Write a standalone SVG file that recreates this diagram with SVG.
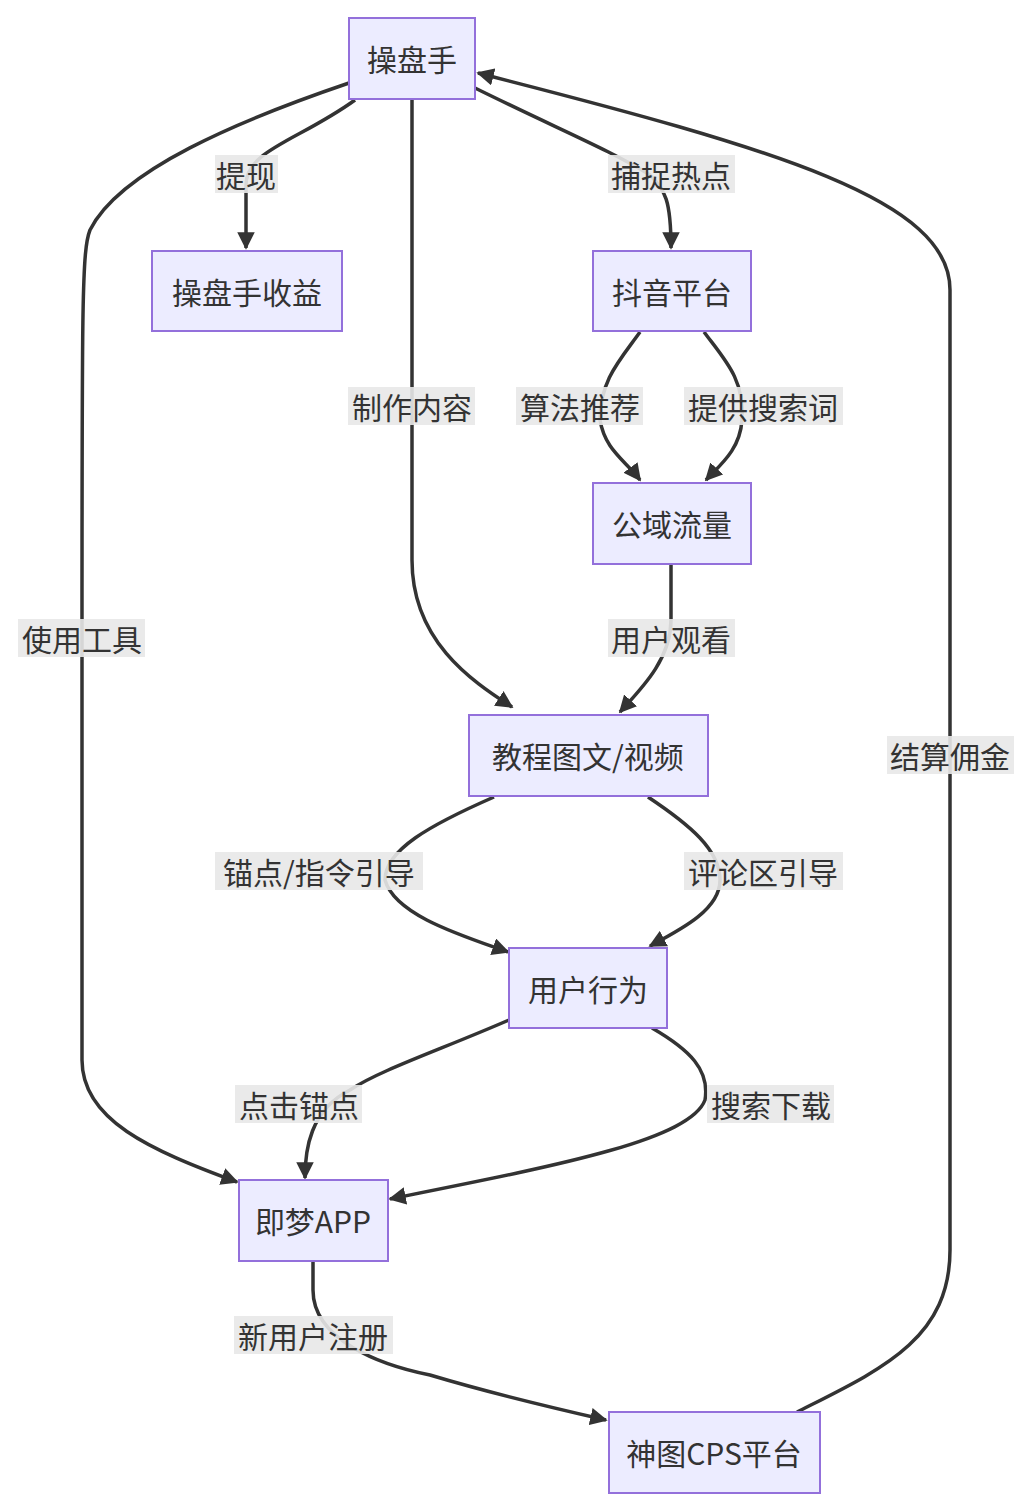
<svg xmlns="http://www.w3.org/2000/svg" width="1032" height="1510" viewBox="0 0 1032 1510">
<style>
.n rect{fill:#ECECFF;stroke:#9370DB;stroke-width:2}
text{font-family:"Noto Sans CJK SC","Liberation Sans",sans-serif;font-size:30px;fill:#333;text-anchor:middle;dominant-baseline:central}
.e path{fill:none;stroke:#333;stroke-width:3.5;marker-end:url(#a)}
.l rect{fill:#e8e8e8;opacity:0.9}
</style>
<defs><marker id="a" viewBox="0 0 10 10" refX="9" refY="5" markerWidth="5" markerHeight="5" orient="auto" markerUnits="strokeWidth"><path d="M0,0L10,5L0,10z" fill="#333"/></marker></defs>
<rect width="1032" height="1510" fill="#fff"/>
<g class="e">
<path d="M355,100 C300,140 246,150 246,185 L246,248"/>
<path d="M475,88 C560,130 610,150 650,175 C665,190 671,200 671,248"/>
<path d="M640,332 C620,360 600,380 600,420 C605,450 625,460 640,480"/>
<path d="M704,332 C725,360 745,380 742,420 C740,450 720,465 706,480"/>
<path d="M412,99 L412,560 C412,640 470,680 512,707"/>
<path d="M671,564 L671,620 C671,660 640,690 620,712"/>
<path d="M494,797 C430,825 385,850 385,880 C395,915 460,935 508,952"/>
<path d="M648,797 C690,825 720,850 720,880 C720,910 680,930 650,946"/>
<path d="M509,1020 C440,1050 380,1070 350,1090 C310,1110 305,1150 305,1178"/>
<path d="M652,1028 C690,1050 710,1070 705,1100 C690,1140 560,1165 390,1199"/>
<path d="M349,83 C240,120 120,170 90,230 C82,250 82,300 82,640 L82,1060 C82,1120 150,1150 237,1182"/>
<path d="M313,1261 L313,1290 C313,1340 380,1365 430,1375 C480,1390 540,1405 606,1420"/>
<path d="M797,1412 C880,1370 950,1340 950,1250 L950,290 C950,200 780,150 478,73"/>
</g>
<g class="l">
<rect x="215" y="155" width="63" height="38"/><text x="246" y="174">提现</text>
<rect x="608" y="155" width="127" height="38"/><text x="671" y="174">捕捉热点</text>
<rect x="516" y="387" width="127" height="38"/><text x="580" y="406">算法推荐</text>
<rect x="684" y="387" width="159" height="38"/><text x="763" y="406">提供搜索词</text>
<rect x="348" y="387" width="127" height="38"/><text x="412" y="406">制作内容</text>
<rect x="608" y="619" width="127" height="38"/><text x="671" y="638">用户观看</text>
<rect x="215" y="852" width="208" height="38"/><text x="319" y="871">锚点/指令引导</text>
<rect x="684" y="852" width="159" height="38"/><text x="763" y="871">评论区引导</text>
<rect x="235" y="1085" width="127" height="38"/><text x="299" y="1104">点击锚点</text>
<rect x="707" y="1085" width="127" height="38"/><text x="771" y="1104">搜索下载</text>
<rect x="18" y="619" width="127" height="38"/><text x="82" y="638">使用工具</text>
<rect x="234" y="1316" width="159" height="38"/><text x="313" y="1335">新用户注册</text>
<rect x="887" y="736" width="127" height="38"/><text x="950" y="755">结算佣金</text>
</g>
<g id="n1" class="n"><rect x="349" y="18" width="126" height="81"/><text x="412" y="58">操盘手</text></g>
<g id="n2" class="n"><rect x="152" y="251" width="190" height="80"/><text x="247" y="291">操盘手收益</text></g>
<g id="n3" class="n"><rect x="593" y="251" width="158" height="80"/><text x="672" y="291">抖音平台</text></g>
<g id="n4" class="n"><rect x="593" y="483" width="158" height="81"/><text x="672" y="523">公域流量</text></g>
<g id="n5" class="n"><rect x="469" y="715" width="239" height="81"/><text x="588" y="755">教程图文/视频</text></g>
<g id="n6" class="n"><rect x="509" y="948" width="158" height="80"/><text x="588" y="988">用户行为</text></g>
<g id="n7" class="n"><rect x="239" y="1180" width="149" height="81"/><text x="313" y="1220">即梦APP</text></g>
<g id="n8" class="n"><rect x="609" y="1412" width="211" height="81"/><text x="714" y="1452">神图CPS平台</text></g>
</svg>
